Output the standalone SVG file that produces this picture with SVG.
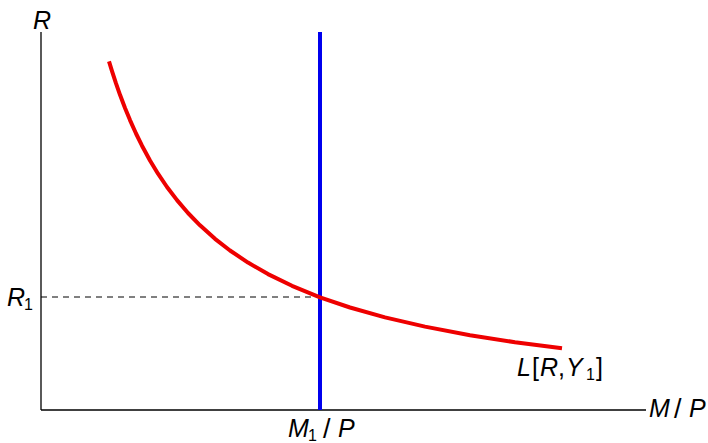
<svg xmlns="http://www.w3.org/2000/svg" width="708" height="443" viewBox="0 0 708 443">
<style>
.t{font-family:"Liberation Sans",Arial,sans-serif;font-size:25px;font-style:italic;fill:#000}
.n{font-style:normal}
.sl{font-style:normal;font-size:27px}
.s{font-size:16px;font-style:normal}
</style>
<rect width="708" height="443" fill="#fff"/>
<g id="axes" stroke="#000" stroke-width="1.3" fill="none">
<line x1="41" y1="32" x2="41" y2="410"/>
<line x1="41" y1="410" x2="646" y2="410"/>
</g>
<g id="connectors">
<line x1="41" y1="297" x2="320" y2="297" stroke="#000" stroke-width="1" stroke-dasharray="6,5"/>
</g>
<g id="money-supply">
<line x1="320" y1="32" x2="320" y2="410" stroke="#0000ee" stroke-width="4"/>
</g>
<g id="money-demand">
<polyline fill="none" stroke="#ee0000" stroke-width="4" stroke-linejoin="round" points="109,61.3 112,71.1 116,83.4 120,94.8 125,108 130,120.1 136,133.5 142,145.7 150,160.5 158,173.7 167,187 177,200.1 188,213 200,225.3 215,238.8 230,250.5 248,262.6 268,274.1 292,285.8 320,297.3 350,307.5 385,317.4 425,326.6 470,335.2 515,342.2 562,348.3"/>
</g>
<g id="labels">
<text class="t" x="33" y="29">R</text>
<text class="t" x="7" y="306">R<tspan class="s" x="24" y="310">1</tspan></text>
<text class="t" x="288" y="437">M<tspan class="s" x="308" y="441">1</tspan><tspan class="sl" x="323" y="438">/</tspan><tspan x="338" y="437">P</tspan></text>
<text class="t" x="649" y="417">M<tspan class="sl" x="674" y="418">/</tspan><tspan x="689" y="417">P</tspan></text>
<text class="t" x="517" y="376">L<tspan class="n" x="532">[</tspan><tspan x="540">R</tspan><tspan class="n" x="558">,</tspan><tspan x="566">Y</tspan><tspan class="s" x="586" y="380">1</tspan><tspan class="n" x="596" y="376">]</tspan></text>
</g>
</svg>
